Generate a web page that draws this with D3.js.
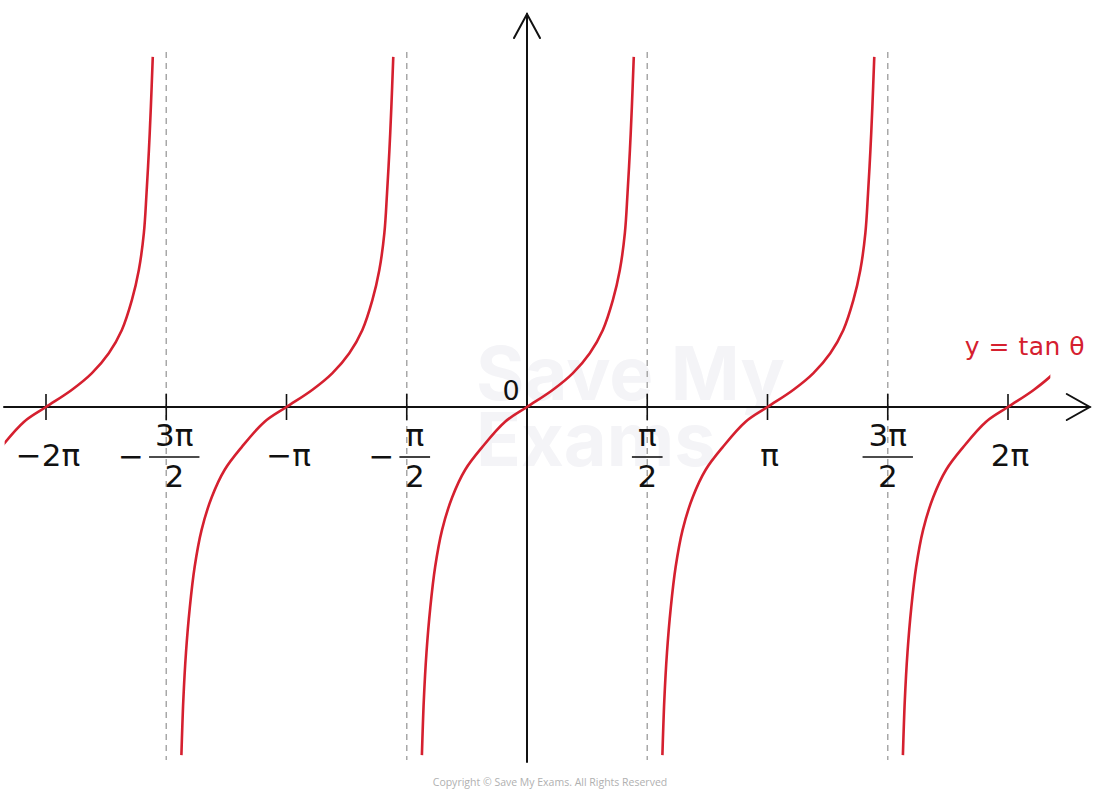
<!DOCTYPE html>
<html lang="en"><head>
<meta charset="utf-8">
<title>y = tan θ</title>
<script src="https://cdn.jsdelivr.net/npm/d3@7"></script>
<style>
  body { margin: 0; background: #fff; }
</style>
</head>
<body>
<script type="text/javascript">

var width = 1100;
var height = 798;

// one branch of the curve (theta in units of pi, value in tan units)
var branchTheta = [-0.437, -0.429, -0.418, -0.402, -0.382, -0.353, -0.311, -0.257, -0.187, -0.091, 0,
                   0.108, 0.191, 0.261, 0.315, 0.357, 0.386, 0.407, 0.418, 0.428, 0.436, 0.444];
var branchTan = [-5.44, -4.58, -3.84, -3.13, -2.5, -1.92, -1.41, -0.98, -0.63, -0.23, 0,
                 0.27, 0.53, 0.84, 1.20, 1.67, 2.14, 2.72, 3.34, 4.02, 4.69, 5.47];
// where each branch crosses zero (units of pi)
var branchCentres = [-2, -1, 0, 1, 2];
var thetaRange = [-2.172, 2.176];

var asymptotes = [-1.5, -0.5, 0.5, 1.5];
var tickValues = [-2, -1.5, -1, -0.5, 0.5, 1, 1.5, 2];
var tickLabels = ["−2π", "−3π/2", "−π", "−π/2", "π/2", "π", "3π/2", "2π"];

var red = "#d5202f";

var svg = d3.select("body").append("svg")
            .attr("width", width)
            .attr("height", height);

var x = d3.scaleLinear().domain([-2, 2]).range([46, 1008]);
var y = d3.scaleLinear().domain([-5.5, 5.5]).range([759, 55]);

// faint watermark
var wm = svg.append("g").attr("fill", "#f4f4f7")
            .attr("font-family", "Inter, 'Open Sans', sans-serif")
            .attr("font-weight", 700).attr("font-size", 74);
wm.append("text").attr("x", 476).attr("y", 400).text("Save My");
wm.append("text").attr("x", 476).attr("y", 466).text("Exams");

// dashed asymptotes
svg.selectAll("line.asym")
    .data(asymptotes)
    .enter()
    .append("line")
    .attr("class", "asym")
    .attr("x1", d => x(d)).attr("x2", d => x(d))
    .attr("y1", 52).attr("y2", 760)
    .attr("stroke", "#a8a8a8")
    .attr("stroke-width", 1.5)
    .attr("stroke-dasharray", "6,5");

// axes
var axis = svg.append("g").attr("stroke", "#111").attr("stroke-width", 2)
              .attr("fill", "none").attr("stroke-linecap", "round");
axis.append("line").attr("x1", 4).attr("x2", x(2.34)).attr("y1", y(0)).attr("y2", y(0));
axis.append("path").attr("d", "M" + (x(2.34) - 23) + "," + (y(0) - 13) + "L" + x(2.34) + "," + y(0) +
                                "L" + (x(2.34) - 23) + "," + (y(0) + 13));
axis.append("line").attr("x1", x(0)).attr("x2", x(0)).attr("y1", 762).attr("y2", 14);
axis.append("path").attr("d", "M" + (x(0) - 13) + ",38L" + x(0) + ",14L" + (x(0) + 13) + ",38");

svg.selectAll("line.tick")
    .data(tickValues)
    .enter()
    .append("line")
    .attr("class", "tick")
    .attr("x1", d => x(d)).attr("x2", d => x(d))
    .attr("y1", y(0) - 13).attr("y2", y(0) + 13)
    .attr("stroke", "#111")
    .attr("stroke-width", 1.6);

// curve branches
svg.append("clipPath").attr("id", "clip")
    .append("rect")
    .attr("x", x(thetaRange[0])).attr("width", x(thetaRange[1]) - x(thetaRange[0]))
    .attr("y", 0).attr("height", height);

var line = d3.line()
    .x(d => x(d[0]))
    .y(d => y(d[1]))
    .curve(d3.curveCatmullRom.alpha(0.5));

svg.append("g").attr("clip-path", "url(#clip)")
    .selectAll("path")
    .data(branchCentres)
    .enter()
    .append("path")
    .attr("d", c => line(branchTheta.map((t, i) => [c + t, branchTan[i]])))
    .attr("fill", "none")
    .attr("stroke", red)
    .attr("stroke-width", 2.6);

// tick labels
var labels = svg.append("g")
    .attr("font-family", "'DejaVu Sans', sans-serif")
    .attr("font-size", 31)
    .attr("fill", "#111");

tickLabels.forEach((lab, i) => {
    var cx = x(tickValues[i]);
    var neg = lab[0] === "−";
    var body = neg ? lab.slice(1) : lab;
    if (body.indexOf("/") < 0) {
        labels.append("text").attr("x", cx + 2).attr("y", 466)
            .attr("text-anchor", "middle").text(lab);
        return;
    }
    var parts = body.split("/");
    var fc = cx + (neg ? 8 : 0);
    var num = labels.append("text").attr("x", fc).attr("y", 446)
        .attr("text-anchor", "middle").text(parts[0]);
    var w = num.node().getComputedTextLength() + 12;
    labels.append("line")
        .attr("x1", fc - w / 2).attr("x2", fc + w / 2)
        .attr("y1", 457).attr("y2", 457)
        .attr("stroke", "#111").attr("stroke-width", 1.6);
    labels.append("text").attr("x", fc).attr("y", 487)
        .attr("text-anchor", "middle").text(parts[1]);
    if (neg) {
        labels.append("text").attr("x", fc - w / 2 - 5).attr("y", 467)
            .attr("text-anchor", "end").text("−");
    }
});

labels.append("text").attr("x", 511).attr("y", 400)
    .attr("text-anchor", "middle").attr("font-size", 27).text("0");

// curve label
svg.append("text")
    .attr("x", 1025).attr("y", 355)
    .attr("text-anchor", "middle")
    .attr("font-family", "'DejaVu Sans', sans-serif")
    .attr("font-size", 25)
    .attr("letter-spacing", 0.5)
    .attr("fill", red)
    .text("y = tan θ");

svg.append("text")
    .attr("x", 550).attr("y", 786)
    .attr("text-anchor", "middle")
    .attr("font-family", "'Open Sans', sans-serif")
    .attr("font-size", 10.5)
    .attr("fill", "#b0b0b0")
    .text("Copyright © Save My Exams. All Rights Reserved");

</script>
</body></html>
